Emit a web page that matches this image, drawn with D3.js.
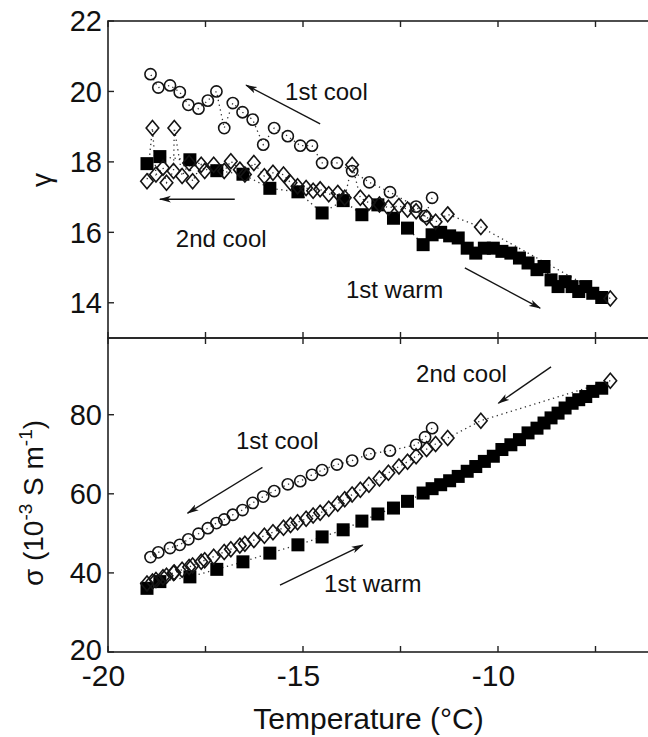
<!DOCTYPE html>
<html>
<head>
<meta charset="utf-8">
<script src="https://cdn.jsdelivr.net/npm/d3@7"></script>
<style>
  html, body { margin: 0; padding: 0; background: #fff; }
  svg { display: block; }
  text { font-family: "Liberation Sans", Arial, Helvetica, sans-serif; fill: #111; }
</style>
</head>
<body>
<svg id="chart" width="648" height="737"></svg>
<script>
// ---------------- data ----------------
// 1st cool (open circles)
const cool1T     = [-11.69, -11.87, -12.10, -12.77, -13.30, -13.74, -14.13, -14.51, -14.77, -15.07, -15.39, -15.74, -16.02, -16.29, -16.55, -16.80, -17.02, -17.22, -17.44, -17.68, -17.94, -18.16, -18.41, -18.71, -18.91];
const cool1Gamma = [16.98, 16.46, 16.73, 17.14, 17.42, 17.74, 17.97, 17.97, 18.46, 18.46, 18.73, 18.96, 18.49, 19.20, 19.41, 19.67, 18.96, 20.00, 19.74, 19.51, 19.62, 19.98, 20.17, 20.11, 20.49];
const cool1Sigma = [76.6, 74.3, 72.4, 70.9, 70.1, 68.4, 67.4, 66.0, 64.8, 63.2, 62.4, 60.7, 59.3, 57.7, 55.9, 54.7, 53.5, 52.6, 51.3, 49.9, 48.5, 47.1, 46.3, 45.2, 44.0];

// 1st warm (filled squares)
const warmT     = [-19.00, -18.67, -17.90, -17.21, -16.54, -15.85, -15.13, -14.51, -13.97, -13.49, -13.08, -12.68, -12.32, -11.92, -11.69, -11.47, -11.24, -11.02, -10.79, -10.57, -10.35, -10.12, -9.90, -9.67, -9.45, -9.23, -9.00, -8.82, -8.64, -8.46, -8.28, -8.10, -7.93, -7.75, -7.57, -7.34];
const warmGamma = [17.95, 18.15, 18.06, 17.75, 17.65, 17.25, 17.15, 16.55, 16.90, 16.50, 16.78, 16.40, 16.12, 15.65, 15.93, 16.00, 15.90, 15.84, 15.55, 15.41, 15.55, 15.55, 15.46, 15.41, 15.27, 15.13, 14.94, 15.03, 14.65, 14.46, 14.60, 14.46, 14.32, 14.46, 14.27, 14.15];
const warmSigma = [36.1, 37.8, 39.0, 40.9, 42.8, 45.0, 47.1, 49.1, 50.9, 53.1, 54.9, 56.4, 58.1, 60.2, 61.3, 62.3, 63.3, 64.4, 65.7, 66.9, 68.2, 69.5, 71.2, 72.4, 73.7, 75.4, 76.6, 77.9, 79.2, 80.4, 81.7, 82.9, 83.8, 84.6, 85.9, 86.7];

// 2nd cool (open diamonds)
const cool2T     = [-7.12, -10.44, -11.29, -11.60, -11.83, -12.10, -12.32, -12.54, -12.81, -13.04, -13.31, -13.53, -13.74, -13.93, -14.11, -14.34, -14.56, -14.74, -14.92, -15.14, -15.32, -15.50, -15.77, -15.99, -16.26, -16.49, -16.62, -16.85, -17.02, -17.29, -17.52, -17.61, -17.83, -17.92, -18.10, -18.30, -18.32, -18.50, -18.59, -18.77, -18.86, -19.00];
const cool2Gamma = [14.12, 16.15, 16.51, 16.30, 16.42, 16.60, 16.65, 16.75, 16.70, 16.79, 16.84, 16.98, 17.92, 16.98, 17.12, 17.08, 17.22, 17.18, 17.26, 17.31, 17.41, 17.64, 17.69, 17.59, 17.97, 17.64, 17.78, 18.02, 17.74, 17.92, 17.74, 17.92, 17.45, 17.97, 17.60, 18.96, 17.74, 17.41, 17.83, 17.64, 18.96, 17.45];
const cool2Sigma = [88.6, 78.5, 74.1, 72.6, 71.3, 69.5, 68.1, 66.9, 65.3, 63.9, 62.3, 61.0, 59.8, 58.6, 57.5, 56.2, 55.2, 54.5, 53.7, 52.8, 52.1, 51.4, 50.3, 49.4, 48.3, 47.4, 46.9, 46.0, 45.3, 44.1, 43.2, 42.8, 41.9, 41.5, 40.8, 40.1, 40.0, 39.3, 38.9, 38.2, 37.8, 37.3];

// axes
const xTicks       = [-20, -17.5, -15, -12.5, -10, -7.5];
const xTickLabels  = [-20, -15, -10];
const gammaTicks   = [14, 16, 18, 20, 22];
const sigmaTicks   = [20, 40, 60, 80];
const xDomain      = [-20, -6];
const gammaDomain  = [13, 22];
const sigmaDomain  = [20, 99.4];

// ---------------- layout ----------------
const svg = d3.select("#chart");
const L = 108, R = 654, TOP1 = 21, MID = 338, BOT = 652;
const x = d3.scaleLinear().domain(xDomain).range([L, R]);
const yG = d3.scaleLinear().domain(gammaDomain).range([MID, TOP1]);
const yS = d3.scaleLinear().domain(sigmaDomain).range([BOT, MID]);

const ink = "#141414";
const defs = svg.append("defs");
defs.append("clipPath").attr("id", "clipTop").append("rect")
  .attr("x", L).attr("y", TOP1).attr("width", R - L).attr("height", MID - TOP1);
defs.append("clipPath").attr("id", "clipBot").append("rect")
  .attr("x", L).attr("y", MID).attr("width", R - L).attr("height", BOT - MID);
defs.append("marker").attr("id", "ah").attr("viewBox", "0 0 12 8")
  .attr("refX", 11).attr("refY", 4).attr("markerWidth", 12).attr("markerHeight", 8)
  .attr("markerUnits", "userSpaceOnUse").attr("orient", "auto")
  .append("path").attr("d", "M0,0.6 L12,4 L0,7.4 L3,4 Z").attr("fill", ink);

const diamond = (w, h) => `M0,${-h} L${w},0 L0,${h} L${-w},0 Z`;

function drawPanel(yScale, clipId, cool1Y, warmY, cool2Y) {
  const g = svg.append("g").attr("clip-path", `url(#${clipId})`);
  const line = d3.line().x(d => x(d[0])).y(d => yScale(d[1]));
  const series = [
    d3.zip(warmT, warmY),
    d3.zip(cool1T, cool1Y),
    d3.zip(cool2T, cool2Y)
  ];
  series.forEach(s => {
    g.append("path").attr("d", line(s)).attr("fill", "none")
      .attr("stroke", "#333").attr("stroke-width", 1.3)
      .attr("stroke-dasharray", "1.3,3.6");
  });
  // squares
  g.selectAll(null).data(series[0]).join("rect")
    .attr("x", d => x(d[0]) - 6.5).attr("y", d => yScale(d[1]) - 6.5)
    .attr("width", 13).attr("height", 13).attr("fill", "#000");
  // circles
  g.selectAll(null).data(series[1]).join("circle")
    .attr("cx", d => x(d[0])).attr("cy", d => yScale(d[1])).attr("r", 5.6)
    .attr("fill", "none").attr("stroke", ink).attr("stroke-width", 1.6);
  // diamonds
  g.selectAll(null).data(series[2]).join("path")
    .attr("transform", d => `translate(${x(d[0])},${yScale(d[1])})`)
    .attr("d", diamond(6.3, 7.5))
    .attr("fill", "none").attr("stroke", ink).attr("stroke-width", 1.6);
}

drawPanel(yG, "clipTop", cool1Gamma, warmGamma, cool2Gamma);
drawPanel(yS, "clipBot", cool1Sigma, warmSigma, cool2Sigma);

// frames and ticks
function frame(y0, y1, yScale, yTickVals, labelShift) {
  svg.append("rect").attr("x", L).attr("y", y0).attr("width", R - L).attr("height", y1 - y0)
    .attr("fill", "none").attr("stroke", "#222").attr("stroke-width", 1.6);
  const tl = 6;
  xTicks.forEach(t => {
    svg.append("line").attr("x1", x(t)).attr("x2", x(t)).attr("y1", y0).attr("y2", y0 + tl)
      .attr("stroke", "#222").attr("stroke-width", 1.4);
    svg.append("line").attr("x1", x(t)).attr("x2", x(t)).attr("y1", y1).attr("y2", y1 - tl)
      .attr("stroke", "#222").attr("stroke-width", 1.4);
  });
  yTickVals.forEach(v => {
    svg.append("line").attr("x1", L).attr("x2", L + tl).attr("y1", yScale(v)).attr("y2", yScale(v))
      .attr("stroke", "#222").attr("stroke-width", 1.4);
    svg.append("line").attr("x1", R).attr("x2", R - tl).attr("y1", yScale(v)).attr("y2", yScale(v))
      .attr("stroke", "#222").attr("stroke-width", 1.4);
    svg.append("text").attr("x", 102).attr("y", yScale(v) + 0.358 * 29 + labelShift(v))
      .attr("text-anchor", "end").attr("font-size", 29).text(v);
  });
}
frame(TOP1, MID, yG, gammaTicks, () => 0);
frame(MID, BOT, yS, sigmaTicks, v => (v === sigmaDomain[0] ? -2 : 0));

xTickLabels.forEach(t => {
  svg.append("text").attr("x", x(t) - 4.5).attr("y", 686)
    .attr("text-anchor", "middle").attr("font-size", 30).text(t);
});
svg.append("text").attr("x", 368.5).attr("y", 729).attr("text-anchor", "middle")
  .attr("font-size", 30).text("Temperature (°C)");

// y labels
svg.append("text").attr("transform", "translate(51,180) rotate(-90)")
  .attr("text-anchor", "middle").attr("font-size", 28).text("γ");
const sl = svg.append("text").attr("transform", "translate(43,503) rotate(-90)")
  .attr("text-anchor", "middle").attr("font-size", 28);
sl.append("tspan").text("σ (10");
sl.append("tspan").attr("font-size", 19).attr("dy", -11).text("-3");
sl.append("tspan").attr("dy", 11).text(" S m");
sl.append("tspan").attr("font-size", 19).attr("dy", -11).text("-1");
sl.append("tspan").attr("dy", 11).text(")");

// annotations (data coordinates)
function note(yScale, tx, ty, label, a) {
  svg.append("text").attr("x", x(tx)).attr("y", yScale(ty)).attr("font-size", 24).text(label);
  svg.append("line").attr("x1", x(a[0])).attr("y1", yScale(a[1]))
    .attr("x2", x(a[2])).attr("y2", yScale(a[3]))
    .attr("stroke", ink).attr("stroke-width", 1.4).attr("marker-end", "url(#ah)");
}
note(yG, -15.46, 19.76, "1st cool", [-14.56, 19.08, -16.46, 20.18]);
note(yG, -18.26, 15.58, "2nd cool", [-16.75, 16.94, -18.67, 16.94]);
note(yG, -13.90, 14.14, "1st warm", [-10.85, 14.99, -8.92, 13.85]);
note(yS, -12.10, 88.3, "2nd cool", [-8.64, 92.1, -9.99, 82.9]);
note(yS, -16.72, 71.3, "1st cool", [-16.04, 66.7, -17.96, 55.1]);
note(yS, -14.46, 35.2, "1st warm", [-15.59, 36.9, -13.47, 47.05]);
</script>
</body>
</html>
